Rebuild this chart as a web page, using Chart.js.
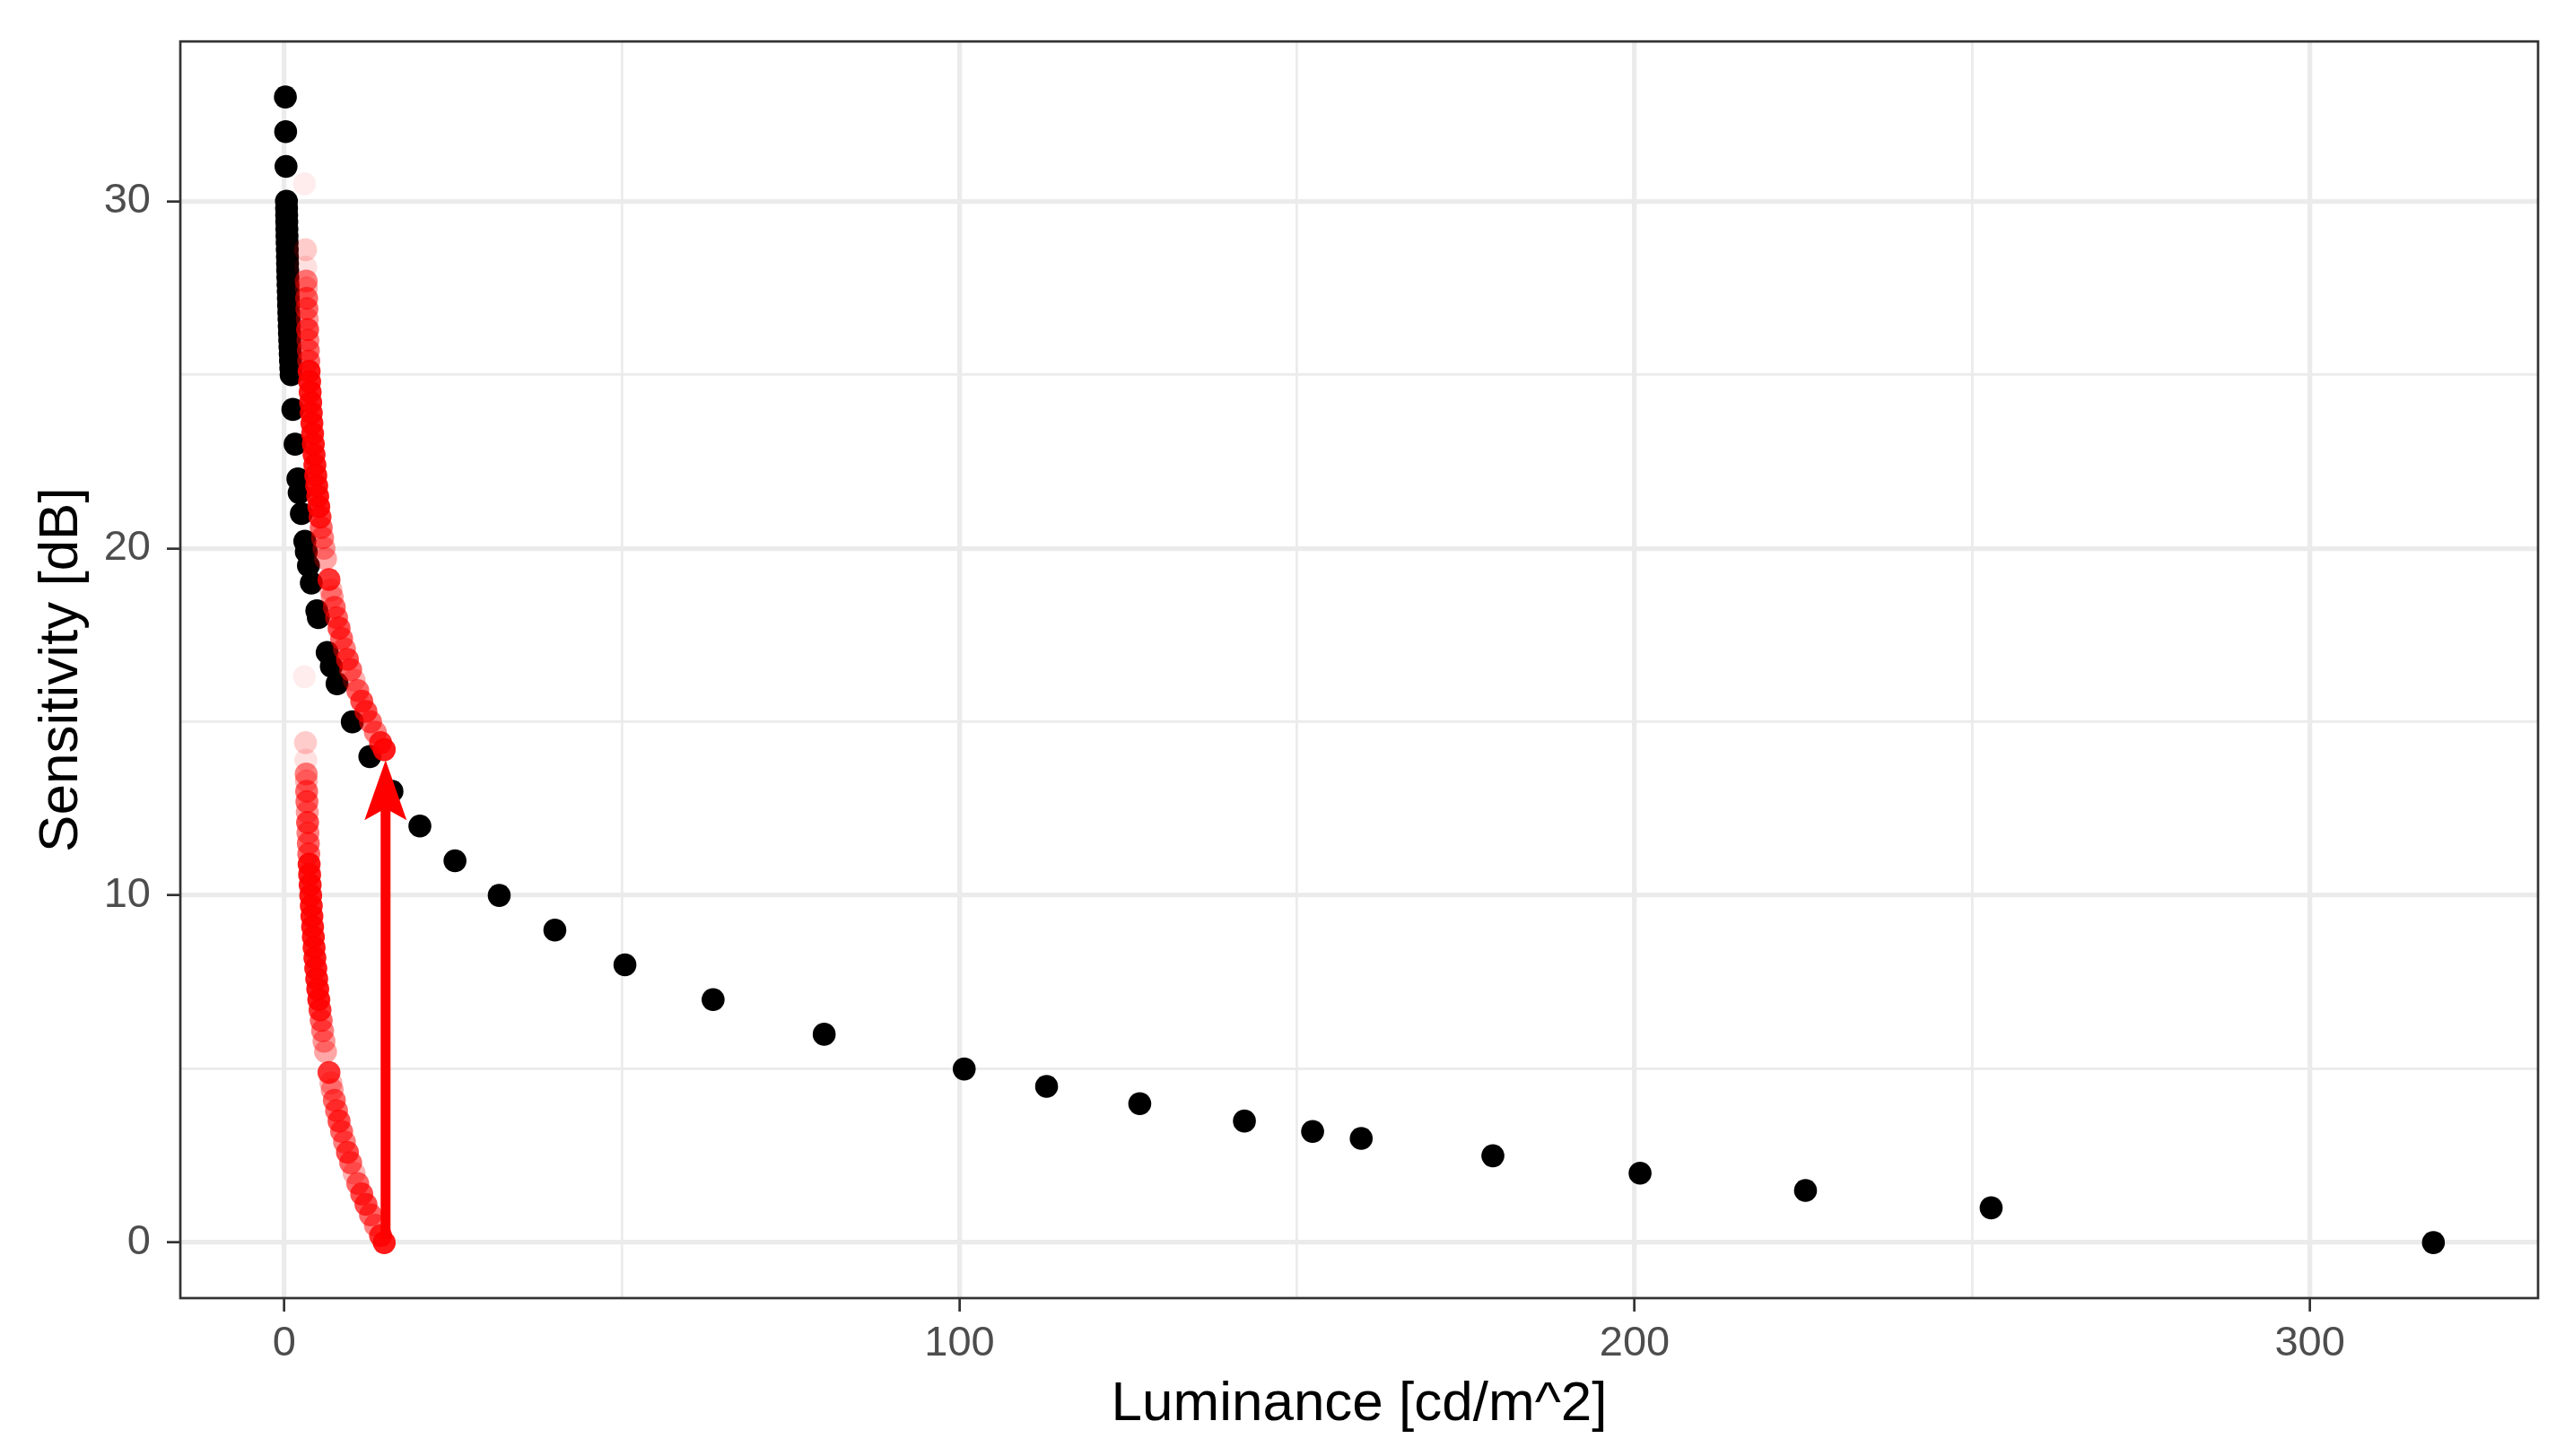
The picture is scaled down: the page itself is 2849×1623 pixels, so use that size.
<!DOCTYPE html>
<html>
<head>
<meta charset="utf-8">
<script src="https://cdn.jsdelivr.net/npm/chart.js@4.4.1/dist/chart.umd.min.js"></script>
<style>
  html, body { margin: 0; padding: 0; background: #fff; overflow: hidden; }
  canvas { display: block; }
</style>
</head>
<body>
<canvas id="chart" width="2849" height="1623"></canvas>
<script>
// black points: luminance [cd/m^2] and sensitivity [dB]
const blackLum = [0.159, 0.200, 0.252, 0.318, 0.333, 0.349, 0.365, 0.382, 0.400, 0.419, 0.439, 0.460,
  0.481, 0.504, 0.528, 0.553, 0.579, 0.606, 0.635, 0.665, 0.696, 0.729, 0.763, 0.800, 0.837, 0.877,
  0.918, 0.962, 1.007, 1.268, 1.596, 2.009, 2.203, 2.529, 3.040, 3.257, 3.574, 4.000, 4.818, 5.045,
  6.351, 6.964, 7.813, 10.07, 12.67, 15.95, 20.08, 25.28, 31.83, 40.07, 50.45, 63.51, 79.96, 100.7,
  112.9, 126.7, 142.2, 152.3, 159.5, 179.0, 200.8, 225.3, 252.8, 318.3];
const blackDb = [33, 32, 31, 30, 29.8, 29.6, 29.4, 29.2, 29.0, 28.8, 28.6, 28.4,
  28.2, 28.0, 27.8, 27.6, 27.4, 27.2, 27.0, 26.8, 26.6, 26.4, 26.2, 26.0, 25.8, 25.6,
  25.4, 25.2, 25.0, 24, 23, 22, 21.6, 21, 20.2, 19.9, 19.5, 19, 18.2, 18.0,
  17, 16.6, 16.1, 15, 14, 13, 12, 11, 10, 9, 8, 7, 6, 5,
  4.5, 4, 3.5, 3.2, 3, 2.5, 2, 1.5, 1, 0];

// red points: same luminance, two sensitivity branches, and the weight shown as transparency
const redLum = [2.98, 3.14, 3.19, 3.24, 3.27, 3.31, 3.35, 3.40, 3.45, 3.50, 3.56, 3.62, 3.68, 3.75,
  3.83, 3.91, 4.00, 4.09, 4.19, 4.30, 4.41, 4.53, 4.66, 4.80, 4.95, 5.11, 5.29, 5.47, 5.67, 5.88,
  6.11, 6.62, 6.90, 7.09, 7.41, 7.74, 8.11, 8.49, 8.91, 9.35, 9.83, 10.34, 10.88, 11.47, 12.09,
  12.77, 13.49, 14.26, 14.80];
const redUpperDb = [30.5, 28.6, 28.1, 27.7, 27.5, 27.2, 26.9, 26.6, 26.3, 26.0, 25.7, 25.4, 25.1, 24.8,
  24.5, 24.2, 23.9, 23.6, 23.3, 23.0, 22.7, 22.4, 22.1, 21.8, 21.5, 21.2, 20.9, 20.6, 20.3, 20.0,
  19.7, 19.1, 18.8, 18.6, 18.3, 18.0, 17.7, 17.4, 17.1, 16.8, 16.5, 16.2, 15.9, 15.6, 15.3,
  15.0, 14.7, 14.4, 14.2];
const redLowerDb = [16.3, 14.4, 13.9, 13.5, 13.3, 13.0, 12.7, 12.4, 12.1, 11.8, 11.5, 11.2, 10.9, 10.6,
  10.3, 10.0, 9.7, 9.4, 9.1, 8.8, 8.5, 8.2, 7.9, 7.6, 7.3, 7.0, 6.7, 6.4, 6.1, 5.8,
  5.5, 4.9, 4.6, 4.4, 4.1, 3.8, 3.5, 3.2, 2.9, 2.6, 2.3, 2.0, 1.7, 1.4, 1.1,
  0.8, 0.5, 0.2, 0.0];
const redWeight = [0.07, 0.2, 0.12, 0.5, 0.3, 0.6, 0.6, 0.4, 0.7, 0.5, 0.6, 0.6, 0.9, 0.9,
  0.9, 0.9, 0.9, 0.9, 0.9, 0.9, 0.9, 0.9, 0.9, 0.9, 0.9, 0.9, 0.8, 0.6, 0.5, 0.4,
  0.35, 0.8, 0.3, 0.4, 0.6, 0.6, 0.7, 0.6, 0.5, 0.7, 0.6, 0.3, 0.6, 0.7, 0.7,
  0.6, 0.5, 0.8, 0.9];

// the shift arrow (luminance, dB): start and tip
const arrowLum = [15.0, 15.0];
const arrowDb = [0.1, 13.9];

// axes
const xMajor = [0, 100, 200, 300];
const xMinor = [50, 150, 250];
const yMajor = [0, 10, 20, 30];
const yMinor = [5, 15, 25];

const tickFont = { family: "'Liberation Sans', Arial, sans-serif", size: 47 };
const titleFont = { family: "'Liberation Sans', Arial, sans-serif", size: 62 };

function toPoints(xs, ys) {
  return xs.map((x, i) => ({ x: x, y: ys[i] }));
}

function gridFor(major) {
  return {
    color: "#EBEBEB",
    lineWidth: c => major.includes(c.tick.value) ? 5.3 : 2.7,
    tickColor: c => major.includes(c.tick.value) ? "#333333" : "rgba(0,0,0,0)",
    tickWidth: 2.7,
    tickLength: 15,
    drawTicks: true
  };
}

const arrowPlugin = {
  id: "shiftArrow",
  afterDatasetsDraw(chart) {
    const { ctx, scales: { x, y } } = chart;
    const x0 = x.getPixelForValue(arrowLum[0]), y0 = y.getPixelForValue(arrowDb[0]);
    const x1 = x.getPixelForValue(arrowLum[1]), y1 = y.getPixelForValue(arrowDb[1]);
    // head drawn pointing up, then rotated onto the arrow direction
    const ang = Math.atan2(y1 - y0, x1 - x0) + Math.PI / 2;
    const head = [[0, 0], [23.5, 67], [5.5, 57], [-5.5, 57], [-23.5, 67]];
    ctx.save();
    ctx.strokeStyle = "#FF0000";
    ctx.fillStyle = "#FF0000";
    ctx.lineWidth = 11;
    ctx.lineCap = "butt";
    ctx.beginPath();
    ctx.moveTo(x0, y0);
    ctx.lineTo(x1 - 50 * Math.sin(ang) * -1, y1 + 50 * Math.cos(ang));
    ctx.stroke();
    ctx.translate(x1, y1);
    ctx.rotate(ang);
    ctx.beginPath();
    head.forEach((p, i) => i ? ctx.lineTo(p[0], p[1]) : ctx.moveTo(p[0], p[1]));
    ctx.closePath();
    ctx.fill();
    ctx.restore();
  }
};

const borderPlugin = {
  id: "panelBorder",
  afterDraw(chart) {
    const { ctx, chartArea: a } = chart;
    ctx.save();
    ctx.strokeStyle = "#333333";
    ctx.lineWidth = 2.7;
    ctx.strokeRect(a.left, a.top, a.right - a.left, a.bottom - a.top);
    ctx.restore();
  }
};

const ctx = document.getElementById("chart");

new Chart(ctx, {
  type: "scatter",
  data: {
    datasets: [
      {
        label: "red upper",
        data: toPoints(redLum, redUpperDb),
        backgroundColor: c => "rgba(255,0,0," + redWeight[c.dataIndex] + ")",
        pointRadius: 12.8,
        pointHoverRadius: 12.8,
        pointBorderWidth: 0,
        order: 0
      },
      {
        label: "red lower",
        data: toPoints(redLum, redLowerDb),
        backgroundColor: c => "rgba(255,0,0," + redWeight[c.dataIndex] + ")",
        pointRadius: 12.8,
        pointHoverRadius: 12.8,
        pointBorderWidth: 0,
        order: 0
      },
      {
        label: "sensitivity",
        data: toPoints(blackLum, blackDb),
        backgroundColor: "#000000",
        pointRadius: 12.8,
        pointHoverRadius: 12.8,
        pointBorderWidth: 0,
        order: 1
      }
    ]
  },
  options: {
    responsive: false,
    devicePixelRatio: 1,
    animation: false,
    events: [],
    layout: { padding: { left: 0, right: 20, top: 40, bottom: 0 }, autoPadding: false },
    plugins: {
      legend: { display: false },
      tooltip: { enabled: false }
    },
    scales: {
      x: {
        type: "linear",
        min: -15.4,
        max: 333.8,
        afterBuildTicks: s => { s.ticks = xMajor.concat(xMinor).sort((a, b) => a - b).map(v => ({ value: v })); },
        afterFit: s => { s.height = 176; },
        ticks: {
          autoSkip: false,
          maxRotation: 0,
          padding: 8,
          color: "#4D4D4D",
          font: tickFont,
          callback: v => xMajor.includes(v) ? String(v) : ""
        },
        grid: gridFor(xMajor),
        border: { display: false },
        title: {
          display: true,
          text: "Luminance [cd/m^2]",
          color: "#000000",
          font: titleFont,
          padding: { top: 0, bottom: 20 }
        }
      },
      y: {
        type: "linear",
        min: -1.6,
        max: 34.6,
        afterBuildTicks: s => { s.ticks = yMajor.concat(yMinor).sort((a, b) => a - b).map(v => ({ value: v })); },
        afterFit: s => { s.width = 201; },
        ticks: {
          autoSkip: false,
          padding: 18,
          color: "#4D4D4D",
          font: tickFont,
          callback: v => yMajor.includes(v) ? String(v) : ""
        },
        grid: gridFor(yMajor),
        border: { display: false },
        title: {
          display: true,
          text: "Sensitivity [dB]",
          color: "#000000",
          font: titleFont,
          padding: { top: 32, bottom: 0 }
        }
      }
    }
  },
  plugins: [arrowPlugin, borderPlugin]
});
</script>
</body>
</html>
